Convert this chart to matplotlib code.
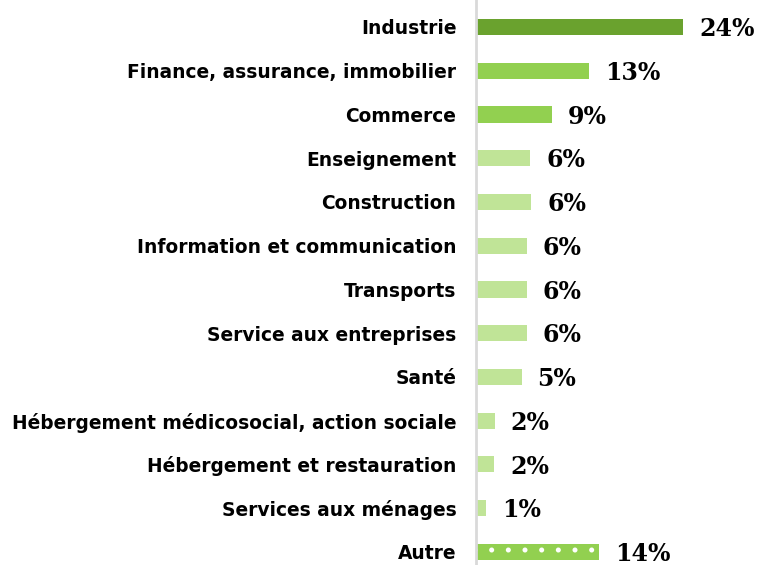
import matplotlib.pyplot as plt

categories = [
    "Industrie",
    "Finance, assurance, immobilier",
    "Commerce",
    "Enseignement",
    "Construction",
    "Information et communication",
    "Transports",
    "Service aux entreprises",
    "Santé",
    "Hébergement médicosocial, action sociale",
    "Hébergement et restauration",
    "Services aux ménages",
    "Autre",
]
values = [24.0, 13.1, 8.8, 6.3, 6.4, 5.9, 5.9, 5.9, 5.3, 2.2, 2.1, 1.2, 14.3]
value_labels = ["24%", "13%", "9%", "6%", "6%", "6%", "6%", "6%", "5%", "2%", "2%", "1%", "14%"]

DARK = "#6aa22e"
MID = "#92d050"
LIGHT = "#c0e497"
colors = [DARK, MID, MID] + [LIGHT] * 9 + [MID]

plt.rcParams["hatch.linewidth"] = 1.2

fig = plt.figure(figsize=(7.59, 5.65), dpi=100)
ax = fig.add_axes([0.627, 0.0, 0.373, 1.0])

pos = list(range(len(categories)))
bars = ax.barh(pos, values, height=0.37, color=colors, edgecolor="none")
# dotted pattern on "Autre"
bars[-1].set_edgecolor("white")
bars[-1].set_linewidth(0)
bars[-1].set_hatch(".")

for b, lab in zip(bars, value_labels):
    ax.text(b.get_width() + 1.85, b.get_y() + b.get_height() / 2 + 0.05, lab,
            va="center", ha="left", fontsize=17, fontweight="bold",
            family="DejaVu Serif", color="black")

ax.set_yticks(pos)
ax.set_yticklabels(categories, fontsize=13.4, fontweight="bold", family="DejaVu Sans")
ax.tick_params(axis="y", length=0, pad=14)
ax.set_xticks([])
ax.set_ylim(12.30, -0.617)
ax.set_xlim(0, 32.8)

for s in ["top", "right", "bottom"]:
    ax.spines[s].set_visible(False)
ax.spines["left"].set_color("#d9d9d9")
ax.spines["left"].set_linewidth(2)

fig.savefig("out.png", dpi=100)
